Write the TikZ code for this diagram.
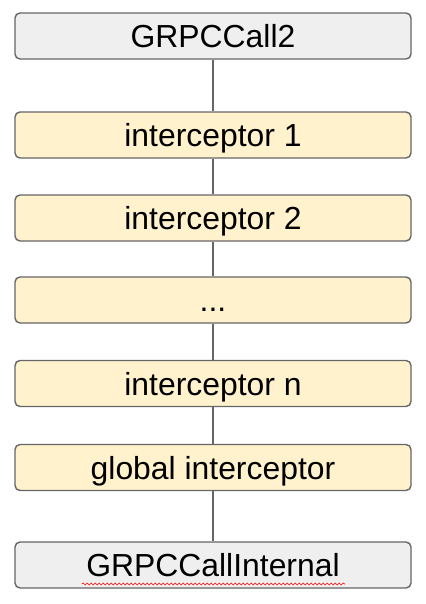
\documentclass[tikz,border=0pt]{standalone}
\usepackage{fontspec}
\setmainfont{Liberation Sans}
\usetikzlibrary{decorations.pathmorphing}
\definecolor{callgray}{HTML}{EFEFEF}
\definecolor{icptyellow}{HTML}{FFF2CC}
\definecolor{edgegray}{HTML}{666666}
\begin{document}
\begin{tikzpicture}[
  box/.style={rectangle, rounded corners=5bp, draw=edgegray, line width=1.4bp, minimum width=396bp, minimum height=46bp, inner sep=0pt, text height=23bp, text depth=0pt, font=\fontsize{32}{38}\selectfont},
  call/.style={box, fill=callgray},
  icpt/.style={box, fill=icptyellow},
  conn/.style={draw=edgegray, line width=1.2bp},
  node distance=83bp
]
\useasboundingbox (0,0) rectangle (426bp,-604bp);

% Outer call
\node[call] (call2) at (213bp,-36bp) {GRPCCall2};

% Interceptor chain
\node[icpt, below of=call2, node distance=99bp] (icpt1) {interceptor 1};
\node[icpt, below of=icpt1] (icpt2) {interceptor 2};
\node[icpt, below of=icpt2, node distance=82bp] (dots) {...};
\node[icpt, below of=dots, node distance=83.5bp] (icptn) {interceptor n};
\node[icpt, below of=icptn, node distance=84bp] (global) {global interceptor};

% Internal call
\node[call, below of=global, node distance=97.5bp] (internal) {GRPCCallInternal};
\coordinate (squigA) at ([xshift=-131bp,yshift=-19bp]internal.center);
\coordinate (squigB) at ([xshift=132bp,yshift=-19bp]internal.center);
\draw[red, line width=0.6bp, decorate, decoration={snake, segment length=4bp, amplitude=1bp}] (squigA) -- (squigB);

\draw[conn] (call2) -- (icpt1);
\draw[conn] (icpt1) -- (icpt2);
\draw[conn] (icpt2) -- (dots);
\draw[conn] (dots) -- (icptn);
\draw[conn] (icptn) -- (global);
\draw[conn] (global) -- (internal);
\end{tikzpicture}
\end{document}
